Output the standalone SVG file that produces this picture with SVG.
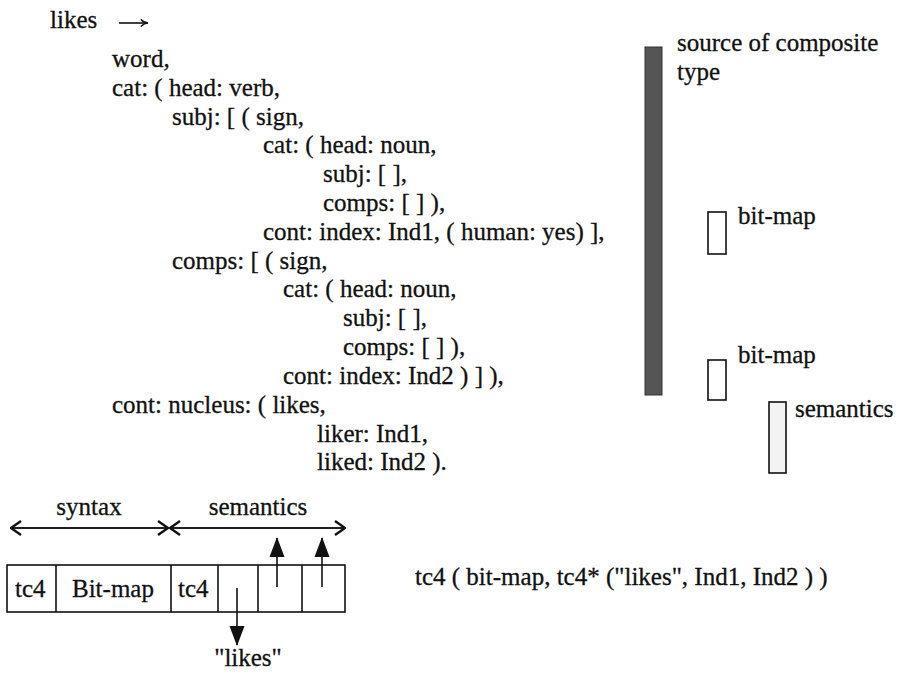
<svg xmlns="http://www.w3.org/2000/svg" width="901" height="674" viewBox="0 0 901 674">
  <style>
    text { font-family: "Liberation Serif", "Times New Roman", serif; font-size: 25px; fill: #111; stroke: #111; stroke-width: 0.3; }
    .box { fill: #fff; stroke: #111; stroke-width: 1.6; }
    .ln { fill: none; stroke: #111; stroke-width: 1.6; }
  </style>
  <defs>
    <marker id="head-small" viewBox="0 0 10 10" refX="9" refY="5" markerWidth="9" markerHeight="9" markerUnits="userSpaceOnUse" orient="auto">
      <path d="M1,1 Q5,5 9,5 Q5,5 1,9" fill="none" stroke="#111" stroke-width="1.6"/>
    </marker>
    <marker id="tri" viewBox="0 0 20 16" refX="19" refY="8" markerWidth="20" markerHeight="16" markerUnits="userSpaceOnUse" orient="auto">
      <path d="M0,0.5 L20,8 L0,15.5 z" fill="#111"/>
    </marker>
    <marker id="open" viewBox="0 0 12 16" refX="11" refY="8" markerWidth="12" markerHeight="16" markerUnits="userSpaceOnUse" orient="auto">
      <path d="M1,1 L11,8 L1,15" fill="none" stroke="#111" stroke-width="2.4"/>
    </marker>
  </defs>

  <!-- rule head -->
  <g id="rule-head">
    <text x="50" y="28">likes</text>
    <path class="ln" d="M119,23 H148" marker-end="url(#head-small)"/>
  </g>

  <!-- feature structure of the lexical entry -->
  <g id="feature-structure" xml:space="preserve">
    <text x="112" y="67">word,</text>
    <text x="112" y="96">cat: ( head: verb,</text>
    <text x="172" y="125">subj: [ ( sign,</text>
    <text x="263" y="153">cat: ( head: noun,</text>
    <text x="323" y="182">subj: [ ],</text>
    <text x="323" y="211">comps: [ ] ),</text>
    <text x="263" y="240">cont: index: Ind1, ( human: yes) ],</text>
    <text x="172" y="269">comps: [ ( sign,</text>
    <text x="283" y="297">cat: ( head: noun,</text>
    <text x="343" y="326">subj: [ ],</text>
    <text x="343" y="355">comps: [ ] ),</text>
    <text x="283" y="384">cont: index: Ind2 )  ] ),</text>
    <text x="112" y="413">cont: nucleus: ( likes,</text>
    <text x="317" y="442">liker: Ind1,</text>
    <text x="317" y="470">liked: Ind2 ).</text>
  </g>

  <!-- storage bars -->
  <g id="source-bar">
    <rect x="645" y="47" width="17" height="348" fill="#555" stroke="#333" stroke-width="1"/>
    <text x="677" y="51">source of composite</text>
    <text x="677" y="80">type</text>
  </g>
  <g id="bitmap-1">
    <rect class="box" x="708" y="212" width="18" height="42"/>
    <text x="738" y="224">bit-map</text>
  </g>
  <g id="bitmap-2">
    <rect class="box" x="708" y="360" width="18" height="40"/>
    <text x="738" y="363">bit-map</text>
  </g>
  <g id="semantics-bar">
    <rect x="769" y="402" width="17" height="71" fill="#f3f3f3" stroke="#111" stroke-width="1.6"/>
    <text x="795" y="417">semantics</text>
  </g>

  <!-- record layout -->
  <g id="record">
    <rect class="box" x="7" y="565" width="338" height="47"/>
    <path class="ln" d="M56,565 V612 M171,565 V612 M218,565 V612 M258,565 V612 M302,565 V612"/>
    <text x="15" y="597">tc4</text>
    <text x="72" y="597">Bit-map</text>
    <text x="178" y="597">tc4</text>
  </g>
  <g id="span-labels">
    <text x="89" y="515" text-anchor="middle">syntax</text>
    <text x="258" y="515" text-anchor="middle">semantics</text>
  </g>
  <g id="likes-literal">
    <text x="248" y="666" text-anchor="middle">"likes"</text>
  </g>
  <g id="term">
    <text x="415" y="585">tc4 ( bit-map, tc4* ("likes", Ind1, Ind2 ) )</text>
  </g>

  <!-- connectors -->
  <g id="connectors">
    <path class="ln" d="M168,528 H11" marker-end="url(#open)"/>
    <path class="ln" d="M11,528 H168" marker-end="url(#open)"/>
    <path class="ln" d="M345,528 H170" marker-end="url(#open)"/>
    <path class="ln" d="M170,528 H345" marker-end="url(#open)"/>
    <path class="ln" d="M237,588 V645" marker-end="url(#tri)"/>
    <path class="ln" d="M277,587 V538" marker-end="url(#tri)"/>
    <path class="ln" d="M322,587 V538" marker-end="url(#tri)"/>
  </g>
</svg>
